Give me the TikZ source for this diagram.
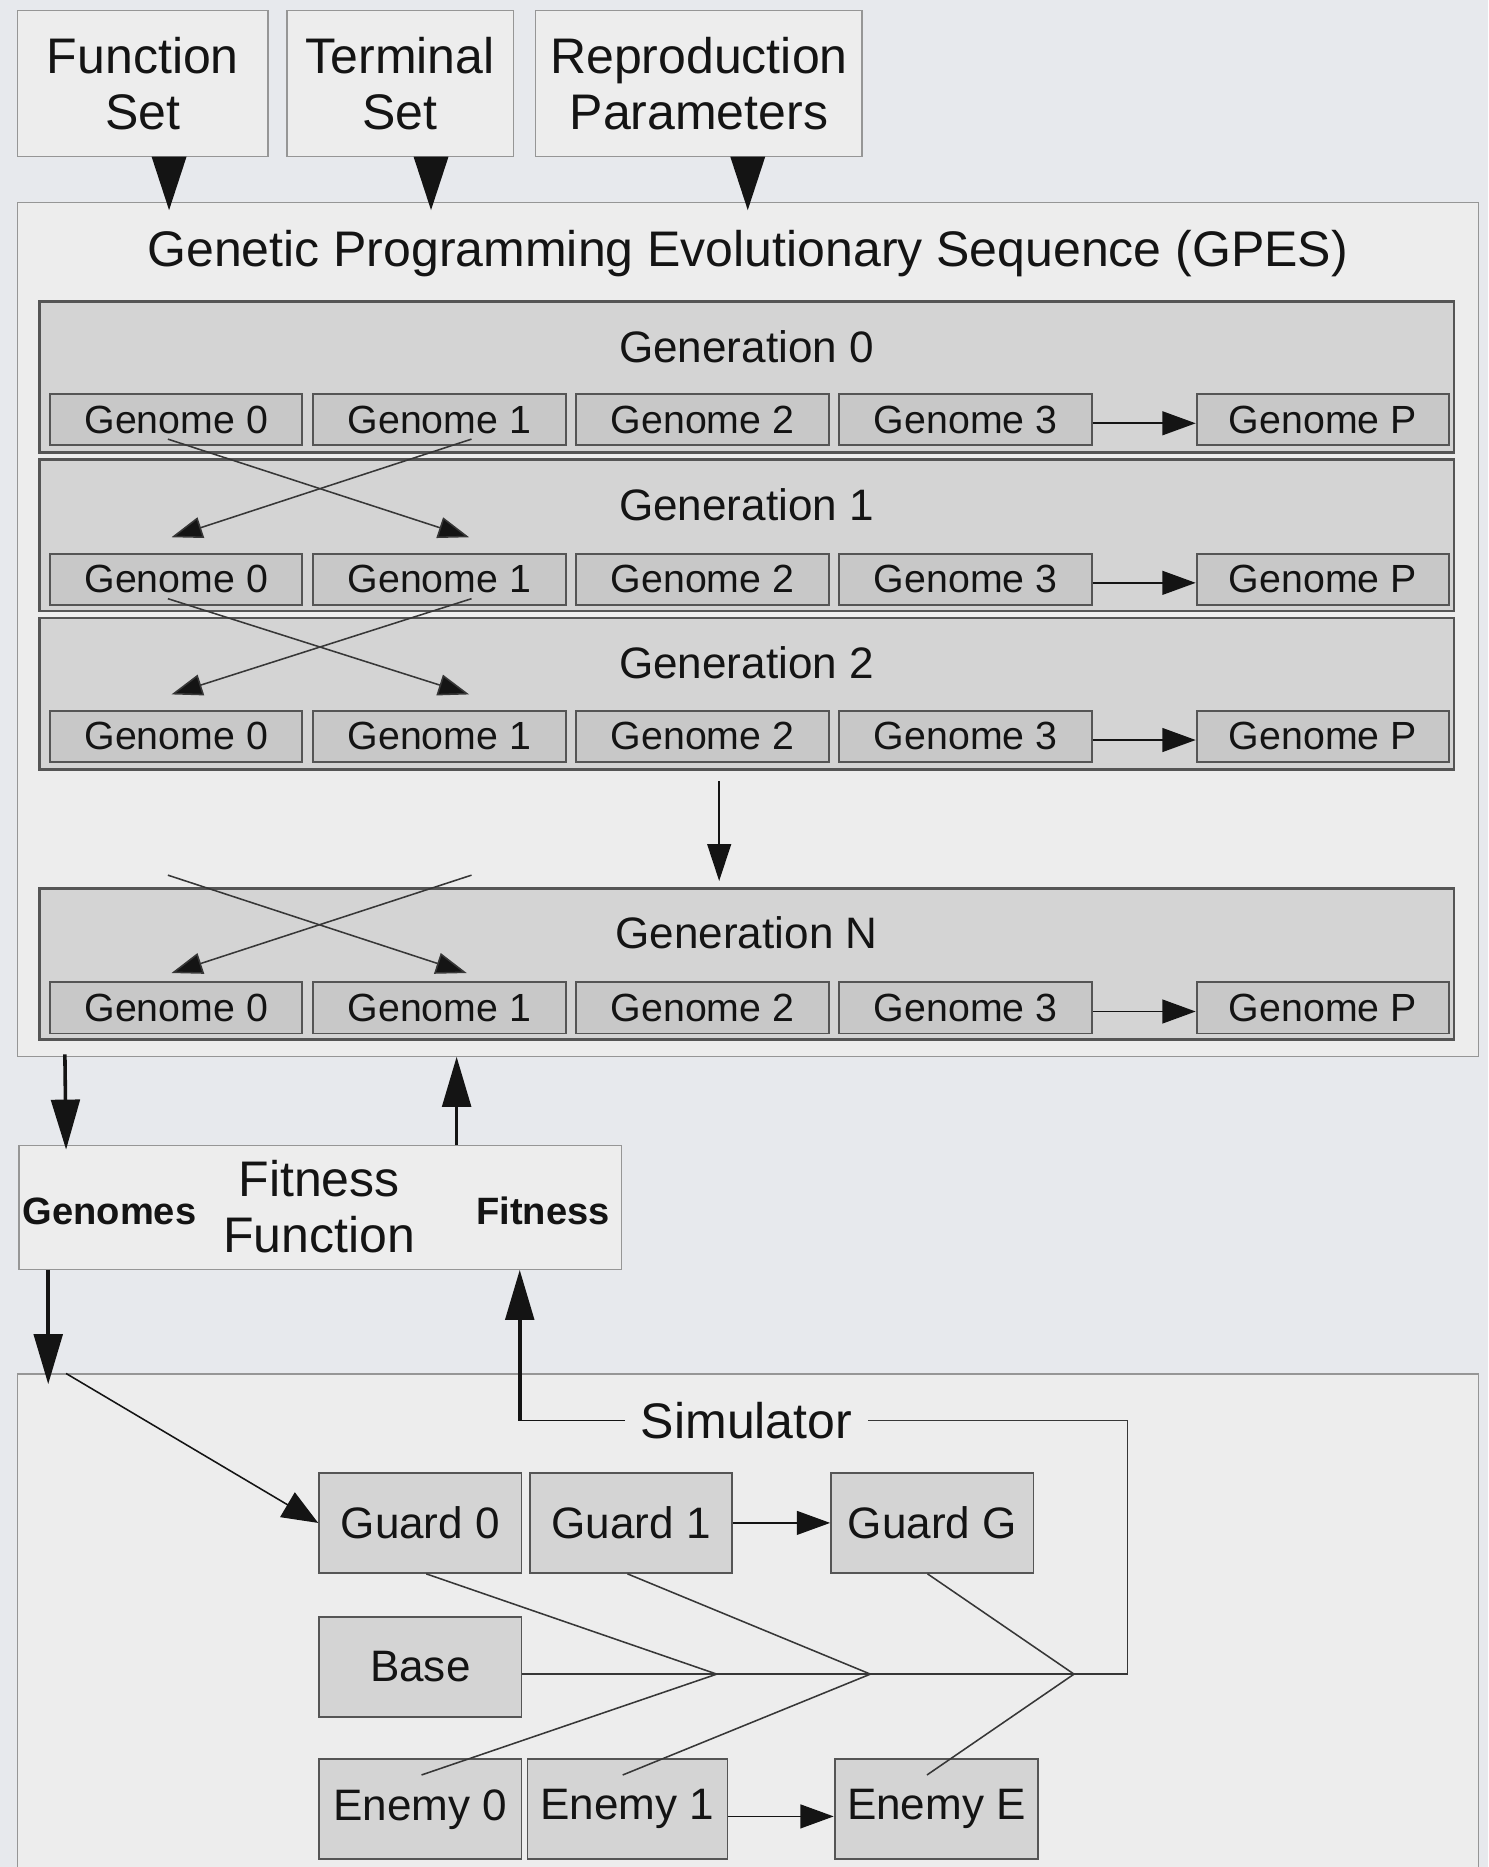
\documentclass[tikz,border=0pt]{standalone}
\usepackage{fontspec}
\setmainfont{Liberation Sans}
\usetikzlibrary{arrows.meta,positioning}
\definecolor{bgblue}{RGB}{231,233,237}
\definecolor{panelgray}{RGB}{237,237,237}
\definecolor{gengray}{RGB}{212,212,212}
\definecolor{genomegray}{RGB}{200,200,200}
\definecolor{edgegray}{RGB}{150,150,150}
\definecolor{darkedge}{RGB}{85,85,85}
\definecolor{wiregray}{RGB}{55,55,55}
\definecolor{inkblack}{RGB}{20,20,20}

\begin{document}
\begin{tikzpicture}[x=1pt, y=-1pt, inkblack,
  panel/.style={draw=edgegray, fill=panelgray, line width=1pt, inner sep=0pt},
  genbox/.style={draw=darkedge, fill=gengray, line width=2.2pt, minimum width=1188pt, minimum height=127pt, inner sep=0pt},
  genome/.style={draw=darkedge, fill=genomegray, line width=1.6pt, minimum width=212pt, minimum height=43pt, inner sep=0pt, font=\fontsize{33}{36}\selectfont},
  unit/.style={draw=darkedge, fill=gengray, line width=1.6pt, minimum width=170pt, minimum height=84pt, inner sep=0pt, font=\fontsize{37}{40}\selectfont},
  bigfont/.style={font=\fontsize{42}{47}\selectfont},
  genfont/.style={font=\fontsize{37}{40}\selectfont},
  boldfont/.style={font=\fontsize{32}{36}\selectfont\bfseries},
  feed/.style={line width=1.5pt, -{Triangle[length=45pt,width=29pt]}},
  fat/.style={line width=3pt, -{Triangle[length=42pt,width=24pt]}},
  seqarrow/.style={line width=1.5pt, -{Triangle[length=28pt,width=20pt]}},
  wire/.style={line width=1.3pt, draw=wiregray},
  xover/.style={wire, -{Triangle[length=26pt,width=18pt,fill=inkblack]}}
]
\useasboundingbox (0,0) rectangle (1250,1568);
\fill[bgblue] (0,0) rectangle (1250,1568);
% inputs
\node[panel, minimum width=210pt, minimum height=123pt, align=center, bigfont] (fs) at (120,70) {Function\\Set};
\node[panel, minimum width=190pt, minimum height=123pt, align=center, bigfont] (ts) at (336,70) {Terminal\\Set};
\node[panel, minimum width=274pt, minimum height=123pt, align=center, bigfont] (rp) at (587,70) {Reproduction\\Parameters};
% GPES
\node[panel, minimum width=1227pt, minimum height=717pt] (gpes) at (628.5,528.5) {};
\node[bigfont] (gpestitle) at (628,213) {Genetic Programming Evolutionary Sequence (GPES)};
\draw[feed] ([xshift=22pt]fs.south) -- ([xshift=-486.5pt,yshift=-7pt]gpes.north);
\draw[feed] ([xshift=26pt]ts.south) -- ([xshift=-266.5pt,yshift=-7pt]gpes.north);
\draw[feed] ([xshift=41pt]rp.south) -- ([xshift=-0.5pt,yshift=-7pt]gpes.north);
% generations
\node[genbox] (gen0) at (627,316.5) {};
\node[genbox] (gen1) at (627,449.5) {};
\node[genbox] (gen2) at (627,582.5) {};
\node[genbox] (genN) at (627,809.5) {};
\node[genfont] at (627,291) {Generation 0};
\node[genfont] at (627,424) {Generation 1};
\node[genfont] at (627,557) {Generation 2};
\node[genfont] at (627,783) {Generation N};
% genomes
\node[genome] (g00) at (148,352.5) {Genome 0}; \node[genome] (g01) at (369,352.5) {Genome 1}; \node[genome] (g02) at (590,352.5) {Genome 2}; \node[genome] (g03) at (811,352.5) {Genome 3}; \node[genome] (g0P) at (1111,352.5) {Genome P};
\node[genome] (g10) at (148,486.5) {Genome 0}; \node[genome] (g11) at (369,486.5) {Genome 1}; \node[genome] (g12) at (590,486.5) {Genome 2}; \node[genome] (g13) at (811,486.5) {Genome 3}; \node[genome] (g1P) at (1111,486.5) {Genome P};
\node[genome] (g20) at (148,618.5) {Genome 0}; \node[genome] (g21) at (369,618.5) {Genome 1}; \node[genome] (g22) at (590,618.5) {Genome 2}; \node[genome] (g23) at (811,618.5) {Genome 3}; \node[genome] (g2P) at (1111,618.5) {Genome P};
\node[genome] (gN0) at (148,846.5) {Genome 0}; \node[genome] (gN1) at (369,846.5) {Genome 1}; \node[genome] (gN2) at (590,846.5) {Genome 2}; \node[genome] (gN3) at (811,846.5) {Genome 3}; \node[genome] (gNP) at (1111,846.5) {Genome P};
\draw[seqarrow] ([yshift=-3pt]g03.east) -- ([yshift=-3pt]g0P.west);
\draw[seqarrow] ([yshift=-3pt]g13.east) -- ([yshift=-3pt]g1P.west);
\draw[seqarrow] ([yshift=-3pt]g23.east) -- ([yshift=-3pt]g2P.west);
\draw[seqarrow] ([yshift=-3pt]gN3.east) -- ([yshift=-3pt]gNP.west);
% crossover
\draw[xover] ([xshift=-7pt,yshift=6pt]g00.south) -- ([xshift=25pt,yshift=13pt]g11.north);
\draw[xover] ([xshift=27pt,yshift=6pt]g01.south) -- ([xshift=-4pt,yshift=13pt]g10.north);
\draw[xover] ([xshift=-7pt,yshift=6pt]g10.south) -- ([xshift=25pt,yshift=13pt]g21.north);
\draw[xover] ([xshift=27pt,yshift=6pt]g11.south) -- ([xshift=-4pt,yshift=13pt]g20.north);
\coordinate (xa) at (141,735);
\coordinate (xb) at (396,735);
\draw[xover] (xa) -- ([xshift=23pt,yshift=7pt]gN1.north);
\draw[xover] (xb) -- ([xshift=-4pt,yshift=7pt]gN0.north);
\draw[wire, inkblack, -{Triangle[length=31pt,width=20pt]}] ([xshift=-23pt,yshift=-9pt]gen2.south) -- ([xshift=-23pt,yshift=5pt]genN.north);
% fitness function
\node[panel, minimum width=506pt, minimum height=104pt] (fit) at (269,1014) {};
\node[bigfont, align=center] (fitlbl) at (268,1013) {Fitness\\Function};
\node[boldfont] (genlbl) at (92,1017) {Genomes};
\node[boldfont] (fitout) at (456,1017) {Fitness};
\draw[fat] ([xshift=40pt,yshift=2pt]gpes.south west) -- ([xshift=40pt,yshift=-4pt]fit.north west);
\coordinate (fitup) at ([xshift=368pt]fit.north west);
\draw[fat] (fitup) -- (fitup |- gpes.south);
% simulator
\node[panel, minimum width=1227pt, minimum height=440pt] (sim) at (628.5,1374) {};
\node[bigfont, inner xsep=13pt] (simlbl) at (627,1193) {Simulator};
\coordinate (fitdn) at ([xshift=25pt]fit.south west);
\coordinate (simin) at ([xshift=26pt,yshift=-9pt]sim.north west);
\draw[fat] (fitdn) -- (simin);
\coordinate (simup) at ([xshift=421pt]fit.south west);
\draw[wire, inkblack] (simlbl.west) -- (simlbl.west -| simup);
\draw[fat] (simlbl.west -| simup) -- (simup);
\node[unit] (gd0) at (353,1279) {Guard 0};
\node[unit] (gd1) at (530,1279) {Guard 1};
\node[unit] (gdG) at (783,1279) {Guard G};
\node[unit] (base) at (353,1400) {Base};
\node[unit] (en0) at (353,1519.5) {Enemy 0};
\node[unit, minimum width=168pt] (en1) at (527,1519.5) {Enemy 1};
\node[unit, minimum width=171pt] (enE) at (786.5,1519.5) {Enemy E};
\draw[wire, inkblack, -{Triangle[length=30pt,width=24pt]}] ([xshift=41pt]sim.north west) -- (gd0.west);
\draw[seqarrow] (gd1) -- (gdG);
\draw[seqarrow] ([yshift=-6pt]en1.east) -- ([yshift=-6pt]enE.west);
\coordinate (simcorner) at (947,1406);
\coordinate (j1) at (602,1406);
\coordinate (j2) at (731,1406);
\coordinate (j3) at (902,1406);
\draw[wire] (simlbl.east) -| (simcorner) -- (simcorner -| base.east);
\draw[wire] ([xshift=5pt]gd0.south) -- (j1) -- ([xshift=1pt,yshift=-14pt]en0.north);
\draw[wire] ([xshift=-3pt]gd1.south) -- (j2) -- ([xshift=-4pt,yshift=-14pt]en1.north);
\draw[wire] ([xshift=-4pt]gdG.south) -- (j3) -- ([xshift=-8pt,yshift=-14pt]enE.north);
\end{tikzpicture}
\end{document}
